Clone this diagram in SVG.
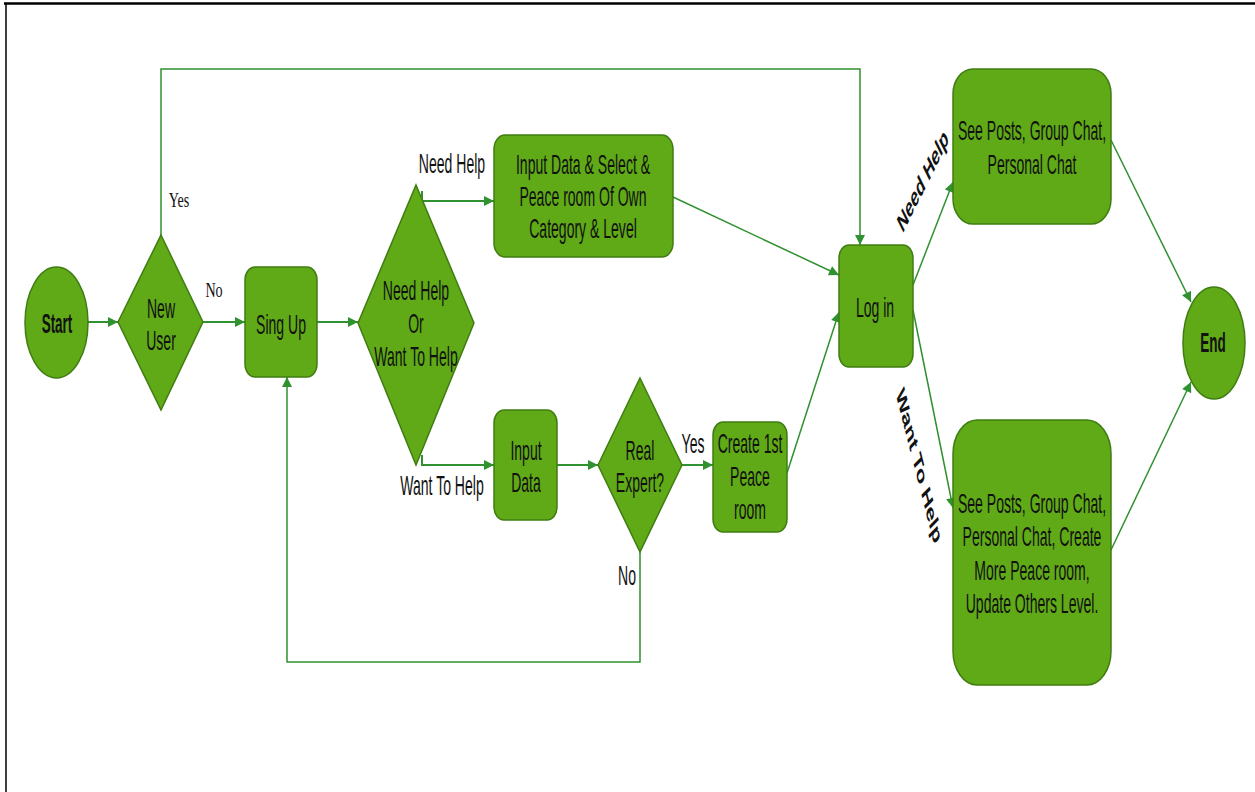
<svg xmlns="http://www.w3.org/2000/svg" width="1255" height="792" viewBox="0 0 1255 792">
<defs>
<style>
.n{fill:#60a917;stroke:#3f7d12;stroke-width:1.5}
.c{fill:none;stroke:#2f912f;stroke-width:2}
.d{fill:none;stroke:#2f912f;stroke-width:1.5}
.t{font-family:"Liberation Sans",Arial,sans-serif;font-size:27px;fill:#111;text-anchor:middle}
.b{font-weight:bold}
.s{font-family:"Liberation Serif","Times New Roman",serif;font-size:22px;fill:#111;text-anchor:middle}
</style>
<marker id="ah" viewBox="0 0 10 10" refX="10" refY="5" markerWidth="11" markerHeight="10" markerUnits="userSpaceOnUse" orient="auto">
<path d="M0,0 L10,5 L0,10 z" fill="#2f912f"/>
</marker>
</defs>
<rect x="0" y="0" width="1255" height="792" fill="#fff"/>
<line x1="4" y1="3.5" x2="1255" y2="3.5" stroke="#000" stroke-width="2.5"/>
<line x1="6" y1="3" x2="6" y2="792" stroke="#000" stroke-width="1.5"/>

<g id="connectors">
<path class="c" d="M88 322 H118" marker-end="url(#ah)"/>
<path class="c" d="M203 322 H245" marker-end="url(#ah)"/>
<path class="d" d="M161 235 V69 H860 V245" marker-end="url(#ah)"/>
<path class="c" d="M317 322 H358" marker-end="url(#ah)"/>
<path class="c" d="M422 191 V201 H494" marker-end="url(#ah)"/>
<path class="c" d="M422 455 V465 H494" marker-end="url(#ah)"/>
<path class="c" d="M557 465 H598" marker-end="url(#ah)"/>
<path class="c" d="M682 465 H713" marker-end="url(#ah)"/>
<path class="d" d="M640 552 V662 H287 V377" marker-end="url(#ah)"/>
<path class="d" d="M673 197 L839 275" marker-end="url(#ah)"/>
<path class="d" d="M787 473 L839 312" marker-end="url(#ah)"/>
<path class="d" d="M913 285 L953 182" marker-end="url(#ah)"/>
<path class="d" d="M913 310 L953 508" marker-end="url(#ah)"/>
<path class="d" d="M1111 140 L1191 302" marker-end="url(#ah)"/>
<path class="d" d="M1111 550 L1191 382" marker-end="url(#ah)"/>
<text class="s" transform="matrix(0.64 0 0 1 179 207)">Yes</text>
<text class="s" transform="matrix(0.64 0 0 1 214 297)">No</text>
<text class="t" transform="matrix(0.52 0 0 1 452 173)">Need Help</text>
<text class="t" transform="matrix(0.52 0 0 1 442 495)">Want To Help</text>
<text class="t" transform="matrix(0.52 0 0 1 693 453)">Yes</text>
<text class="t" transform="matrix(0.52 0 0 1 627 585)">No</text>
<text class="t b" font-size="28" transform="translate(926 187) scale(0.5 1) rotate(-45)">Need Help</text>
<text class="t b" font-size="28" transform="translate(915 470) scale(0.5 1) rotate(63)">Want To Help</text>
</g>

<g id="start">
<ellipse class="n" cx="56.5" cy="322.5" rx="31.5" ry="55.5"/>
<text class="t b" transform="matrix(0.5 0 0 1 57 333)">Start</text>
</g>
<g id="new-user">
<polygon class="n" points="161,235 203,322 161,410 118,322"/>
<text class="t" transform="matrix(0.52 0 0 1 161 318)"><tspan x="0" y="0">New</tspan><tspan x="0" dy="32">User</tspan></text>
</g>
<g id="sign-up">
<rect class="n" x="245" y="267" width="72" height="110" rx="10" ry="13"/>
<text class="t" transform="matrix(0.52 0 0 1 281 334)">Sing Up</text>
</g>
<g id="need-or-want">
<polygon class="n" points="416,185 474,323 416,465 358,323"/>
<text class="t" transform="matrix(0.52 0 0 1 416 300)"><tspan x="0" y="0">Need Help</tspan><tspan x="0" dy="33">Or</tspan><tspan x="0" dy="33">Want To Help</tspan></text>
</g>
<g id="input-select">
<rect class="n" x="494" y="135" width="179" height="122" rx="11" ry="14"/>
<text class="t" transform="matrix(0.52 0 0 1 583 174)"><tspan x="0" y="0">Input Data &amp; Select &amp;</tspan><tspan x="0" dy="32">Peace room Of Own</tspan><tspan x="0" dy="32">Category &amp; Level</tspan></text>
</g>
<g id="input-data">
<rect class="n" x="494" y="410" width="63" height="110" rx="10" ry="13"/>
<text class="t" transform="matrix(0.52 0 0 1 526 460)"><tspan x="0" y="0">Input</tspan><tspan x="0" dy="32">Data</tspan></text>
</g>
<g id="real-expert">
<polygon class="n" points="640,378 682,465 640,552 598,465"/>
<text class="t" transform="matrix(0.52 0 0 1 640 460)"><tspan x="0" y="0">Real</tspan><tspan x="0" dy="32">Expert?</tspan></text>
</g>
<g id="create-room">
<rect class="n" x="713" y="422" width="74" height="110" rx="10" ry="13"/>
<text class="t" transform="matrix(0.52 0 0 1 750 453)"><tspan x="0" y="0">Create 1st</tspan><tspan x="0" dy="33">Peace</tspan><tspan x="0" dy="33">room</tspan></text>
</g>
<g id="log-in">
<rect class="n" x="839" y="245" width="74" height="122" rx="10" ry="13"/>
<text class="t" transform="matrix(0.52 0 0 1 875 317)">Log in</text>
</g>
<g id="need-help-actions">
<rect class="n" x="953" y="69" width="158" height="155" rx="20" ry="25"/>
<text class="t" transform="matrix(0.52 0 0 1 1032 140)"><tspan x="0" y="0">See Posts, Group Chat,</tspan><tspan x="0" dy="34">Personal Chat</tspan></text>
</g>
<g id="want-help-actions">
<rect class="n" x="953" y="420" width="158" height="265" rx="24" ry="34"/>
<text class="t" transform="matrix(0.52 0 0 1 1032 513)"><tspan x="0" y="0">See Posts, Group Chat,</tspan><tspan x="0" dy="33.5">Personal Chat, Create</tspan><tspan x="0" dy="33.5">More Peace room,</tspan><tspan x="0" dy="33.5">Update Others Level.</tspan></text>
</g>
<g id="end">
<ellipse class="n" cx="1214" cy="343" rx="31" ry="56"/>
<text class="t b" transform="matrix(0.5 0 0 1 1213 352)">End</text>
</g>
</svg>
